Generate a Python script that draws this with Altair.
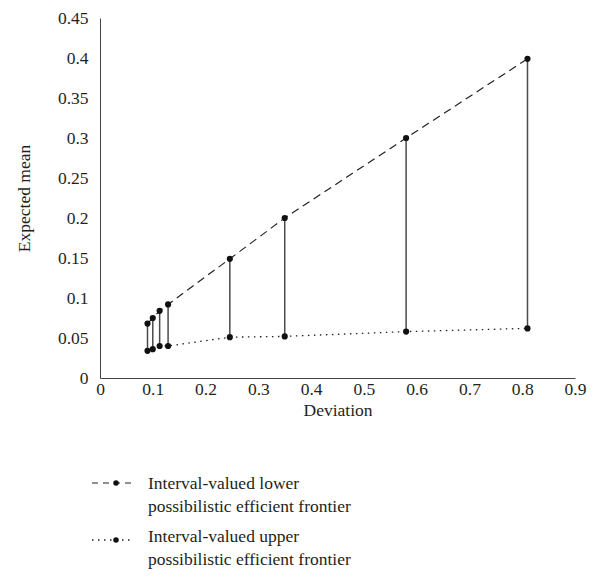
import altair as alt
import pandas as pd

deviation = [0.09, 0.10, 0.113, 0.129, 0.246, 0.35, 0.58, 0.81]
lower_frontier = [0.068, 0.075, 0.084, 0.092, 0.149, 0.200, 0.300, 0.399]
upper_frontier = [0.034, 0.036, 0.040, 0.040, 0.051, 0.052, 0.058, 0.062]
x_ticks = [0, 0.1, 0.2, 0.3, 0.4, 0.5, 0.6, 0.7, 0.8, 0.9]
y_ticks = [0, 0.05, 0.1, 0.15, 0.2, 0.25, 0.3, 0.35, 0.4, 0.45]
legend_lower = ["Interval-valued lower", "possibilistic efficient frontier"]
legend_upper = ["Interval-valued upper", "possibilistic efficient frontier"]

FONT = "Liberation Serif"
TXT = "#231f20"
FS = 17.5

df = pd.DataFrame({"dev": deviation, "lo": lower_frontier, "up": upper_frontier})

xscale = alt.Scale(domain=[0, 0.9], nice=False)
yscale = alt.Scale(domain=[0, 0.45], nice=False)
xaxis = alt.Axis(values=x_ticks, format=".1~f", title="Deviation",
                 ticks=False, grid=False, labelPadding=2, titlePadding=4,
                 domainColor="#444", labelFontSize=FS, titleFontSize=FS,
                 labelFont=FONT, titleFont=FONT, labelColor=TXT, titleColor=TXT,
                 titleFontWeight="normal", labelFlush=False, labelOverlap=False)
yaxis = alt.Axis(values=y_ticks, format=".2~f", title="Expected mean",
                 ticks=False, grid=False, labelPadding=12, titlePadding=24,
                 domainColor="#444", labelFontSize=FS, titleFontSize=FS,
                 labelFont=FONT, titleFont=FONT, labelColor=TXT, titleColor=TXT,
                 titleFontWeight="normal", labelFlush=False, labelOverlap=False)

base = alt.Chart(df)
xe = alt.X("dev:Q", scale=xscale, axis=xaxis)

rules = base.mark_rule(color="#4a4a4a", strokeWidth=1.5).encode(
    x=xe, y=alt.Y("up:Q", scale=yscale, axis=yaxis), y2="lo:Q")
lo_line = base.mark_line(color="#222", strokeWidth=1.2, strokeDash=[8, 5]).encode(
    x=xe, y=alt.Y("lo:Q", scale=yscale, axis=yaxis))
up_line = base.mark_line(color="#222", strokeWidth=1.3, strokeDash=[1.5, 4.5]).encode(
    x=xe, y=alt.Y("up:Q", scale=yscale, axis=yaxis))
lo_pts = base.mark_circle(color="#111", size=38, opacity=1).encode(
    x=xe, y=alt.Y("lo:Q", scale=yscale, axis=yaxis))
up_pts = base.mark_circle(color="#111", size=38, opacity=1).encode(
    x=xe, y=alt.Y("up:Q", scale=yscale, axis=yaxis))

# manual legend below the plot
leg_df = pd.DataFrame({"k": [0]})
leg = alt.Chart(leg_df)
sym1 = leg.mark_rule(color="#222", strokeWidth=1.2, strokeDash=[6, 5]).encode(
    x=alt.value(-8), x2=alt.value(33), y=alt.value(465))
dot1 = leg.mark_circle(color="#111", size=30, opacity=1).encode(
    x=alt.value(16), y=alt.value(465))
sym2 = leg.mark_rule(color="#222", strokeWidth=1.3, strokeDash=[1.5, 4.5]).encode(
    x=alt.value(-8), x2=alt.value(33), y=alt.value(522))
dot2 = leg.mark_circle(color="#111", size=30, opacity=1).encode(
    x=alt.value(16), y=alt.value(522))

texts = []
ys = [466, 489, 519, 542]
labels = legend_lower + legend_upper
for lab, yy in zip(labels, ys):
    texts.append(leg.mark_text(align="left", baseline="middle", font=FONT,
                               fontSize=FS, color=TXT, text=lab).encode(
        x=alt.value(48), y=alt.value(yy)))

chart = alt.layer(rules, lo_line, up_line, lo_pts, up_pts, sym1, dot1, sym2, dot2, *texts).properties(
    width=475, height=360,
    autosize=alt.AutoSizeParams(type="none"),
    padding={"left": 100, "top": 18, "right": 22, "bottom": 201},
    background="white",
).configure_view(stroke=None)

chart.save("out.html", embed_options={"renderer": "svg", "actions": False})
